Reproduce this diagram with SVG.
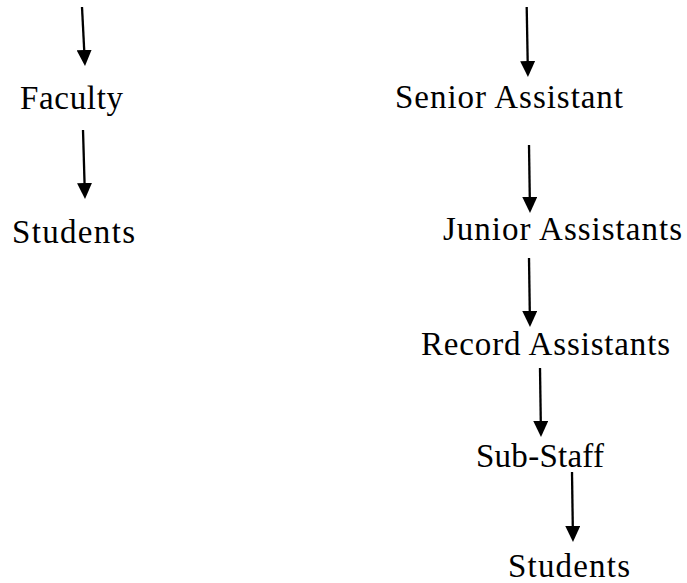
<svg xmlns="http://www.w3.org/2000/svg" width="687" height="583" viewBox="0 0 687 583">
<defs>
<style>
.t{font-family:"Liberation Serif","Times New Roman",serif;font-size:33px;fill:#000}
.c{stroke:#000;stroke-width:2.3;fill:none;marker-end:url(#ah)}
</style>
<marker id="ah" markerUnits="userSpaceOnUse" markerWidth="16" markerHeight="15" viewBox="0 0 16 15" refX="2" refY="7.5" orient="auto">
<path d="M0,0 L16,7.5 L0,15 Z" fill="#000"/>
</marker>
</defs>
<rect width="687" height="583" fill="#fff"/>
<g id="connectors">
<line class="c" x1="82" y1="7" x2="84.3" y2="52"/>
<line class="c" x1="83" y1="130" x2="84.6" y2="185"/>
<line class="c" x1="526.7" y1="7" x2="527.7" y2="63"/>
<line class="c" x1="529" y1="145" x2="529.8" y2="199"/>
<line class="c" x1="529" y1="258" x2="529.8" y2="313"/>
<line class="c" x1="540" y1="368" x2="540.8" y2="423"/>
<line class="c" x1="572" y1="472" x2="572.8" y2="528"/>
</g>
<g id="faculty"><text class="t" x="20" y="109" textLength="103">Faculty</text></g>
<g id="students-left"><text class="t" x="12" y="243" textLength="123">Students</text></g>
<g id="senior-assistant"><text class="t" x="395" y="108" textLength="228">Senior Assistant</text></g>
<g id="junior-assistants"><text class="t" x="443" y="240" textLength="239">Junior Assistants</text></g>
<g id="record-assistants"><text class="t" x="421" y="355" textLength="249">Record Assistants</text></g>
<g id="sub-staff"><text class="t" x="476" y="467" textLength="128">Sub-Staff</text></g>
<g id="students-right"><text class="t" x="508" y="577" textLength="122">Students</text></g>
</svg>
